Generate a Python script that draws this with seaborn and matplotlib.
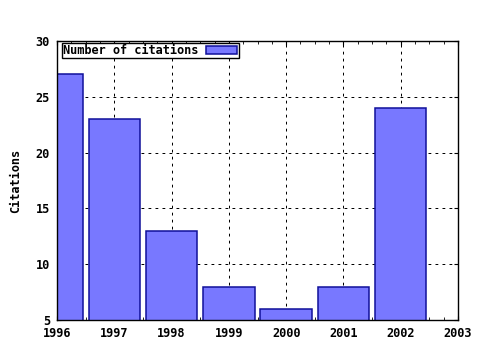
import matplotlib
matplotlib.use("Agg")
import matplotlib.pyplot as plt
import seaborn as sns
import pandas as pd
from matplotlib.ticker import MultipleLocator

years = [1996, 1997, 1998, 1999, 2000, 2001, 2002]
citations = [27, 23, 13, 8, 6, 8, 24]
series_name = "Number of citations"
ylabel = "Citations"

sns.set_style("white")
plt.rcParams['font.family'] = ['DejaVu Sans Mono']
plt.rcParams['font.weight'] = 'bold'
plt.rcParams['text.color'] = 'black'
plt.rcParams['axes.labelcolor'] = 'black'
plt.rcParams['xtick.color'] = 'black'
plt.rcParams['ytick.color'] = 'black'

FS = 8.6

df = pd.DataFrame({"year": years, "citations": citations})

fig = plt.figure(figsize=(4.8, 3.5), dpi=100)
ax = fig.add_axes([57/480, 1 - 320/350, (458 - 57)/480, (320 - 41)/350])

sns.barplot(data=df, x="year", y="citations", native_scale=True, width=0.9,
            color="#7878ff", saturation=1, edgecolor="#10109a", linewidth=1.1,
            label=series_name, ax=ax)

ax.set_xlim(1996, 2003)
ax.set_ylim(5, 30)
ax.xaxis.set_major_locator(MultipleLocator(1))
ax.yaxis.set_major_locator(MultipleLocator(5))
ax.xaxis.set_minor_locator(MultipleLocator(0.25))
ax.tick_params(which='major', direction='in', length=3, width=0.8, top=True, right=True,
               labelsize=FS, color='black', pad=5, bottom=True, left=True,
               labelcolor='black')
ax.tick_params(axis='x', which='minor', direction='in', length=2, width=0.6, top=True,
               bottom=True, color='black')
ax.grid(True, which='major', linestyle=(0, (2.8, 4.2)), color='black', linewidth=0.72)
ax.set_axisbelow(True)
for s in ax.spines.values():
    s.set_color('black')
    s.set_linewidth(1.0)
    s.set_zorder(5)
ax.set_xlabel("")
ax.set_ylabel(ylabel, fontsize=FS, fontweight='bold', labelpad=10, color='black')
for lbl in ax.get_xticklabels() + ax.get_yticklabels():
    lbl.set_fontweight('bold')

leg = ax.legend(loc='upper left', bbox_to_anchor=(0.0125, 0.993), markerfirst=False,
                fancybox=False, frameon=True, edgecolor='black', framealpha=1,
                borderpad=0.1, handlelength=2.6, handleheight=0.65, handletextpad=0.65,
                borderaxespad=0.0, prop={'weight': 'bold', 'size': FS})
leg.get_frame().set_linewidth(1.0)
leg.set_zorder(6)

fig.savefig("out.png", dpi=100)
